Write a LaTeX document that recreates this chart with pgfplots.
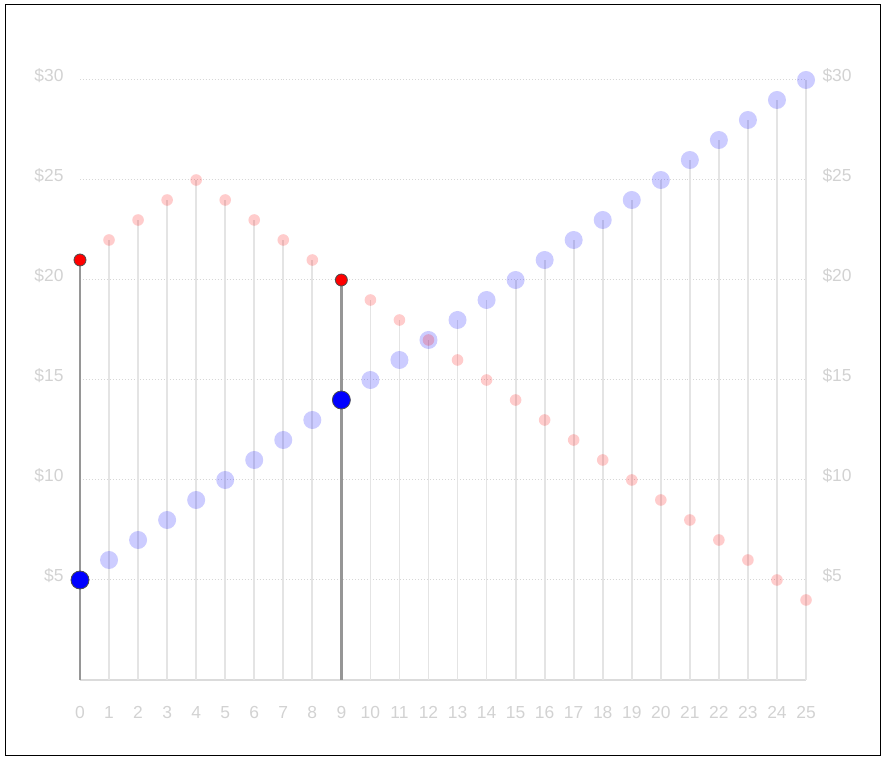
\documentclass[border=0pt]{standalone}
\usepackage{fontspec}
\setmainfont{Liberation Sans}
\usepackage{pgfplots}
\pgfplotsset{compat=1.18}
\definecolor{lbl}{RGB}{210,210,210}
\definecolor{stem}{RGB}{228,228,228}
\definecolor{stemhi}{RGB}{150,150,150}
\definecolor{gridc}{RGB}{215,215,215}

\pgfplotstableread{
x blue red
0 5 21
1 6 22
2 7 23
3 8 24
4 9 25
5 10 24
6 11 23
7 12 22
8 13 21
9 14 20
10 15 19
11 16 18
12 17 17
13 18 16
14 19 15
15 20 14
16 21 13
17 22 12
18 23 11
19 24 10
20 25 9
21 26 8
22 27 7
23 28 6
24 29 5
25 30 4
}\datatable

\begin{document}
\begin{tikzpicture}[x=1bp,y=1bp]
\path (0,0) rectangle (885,762);
\draw[black, line width=1bp] (5,6) rectangle (880,757);
\pgfplotsset{
  base/.style={
    scale only axis, width=726bp, height=600bp,
    at={(80bp,82bp)}, anchor=south west,
    xmin=0, xmax=25, ymin=0, ymax=30,
    axis line style={draw=none},
    major tick length=0pt,
    clip=false,
    ytick={5,10,...,30},
    yticklabel={\$\pgfmathprintnumber{\tick}},
    /pgf/number format/assume math mode=true,
    tick label style={font=\fontsize{17.5}{19}\selectfont, text=lbl},
  }
}
\begin{axis}[base,
    xtick={0,1,...,25},
    xticklabel style={yshift=-23bp},
    yticklabel style={xshift=-13bp, yshift=4bp},
    ymajorgrids,
    grid style={draw=gridc, line width=1bp, dotted},
]
\draw[draw=lbl!80, line width=1.5bp] (axis cs:0,0) -- (axis cs:25,0);
% stems
\addplot[ycomb, draw=stem, line width=1.8bp, no markers] table[x=x,y=blue] {\datatable};
\addplot[ycomb, draw=stem, line width=1.8bp, no markers] table[x=x,y=red] {\datatable};
\addplot[ycomb, draw=stemhi, line width=2.5bp, no markers] coordinates {(0,21) (9,20)};
% faded points
\addplot[only marks, mark=*, mark size=9bp, draw opacity=0, fill=blue, fill opacity=0.2,
  mark options={draw opacity=0, fill=blue, fill opacity=0.2}] table[x=x,y=blue] {\datatable};
\addplot[only marks, mark=*, mark size=5.8bp, draw opacity=0, fill=red, fill opacity=0.2,
  mark options={draw opacity=0, fill=red, fill opacity=0.2}] table[x=x,y=red] {\datatable};
% highlighted points
\addplot[only marks, mark=*, mark size=9bp, mark options={draw=black!70, line width=0.8bp, fill=blue}] coordinates {(0,5) (9,14)};
\addplot[only marks, mark=*, mark size=6bp, mark options={draw=black!70, line width=0.8bp, fill=red}] coordinates {(0,21) (9,20)};
\end{axis}
\begin{axis}[base,
    xtick=\empty,
    yticklabel pos=right,
    yticklabel style={xshift=13bp, yshift=4bp},
]
\addplot[draw=none] coordinates {(0,0)};
\end{axis}
\end{tikzpicture}
\end{document}
